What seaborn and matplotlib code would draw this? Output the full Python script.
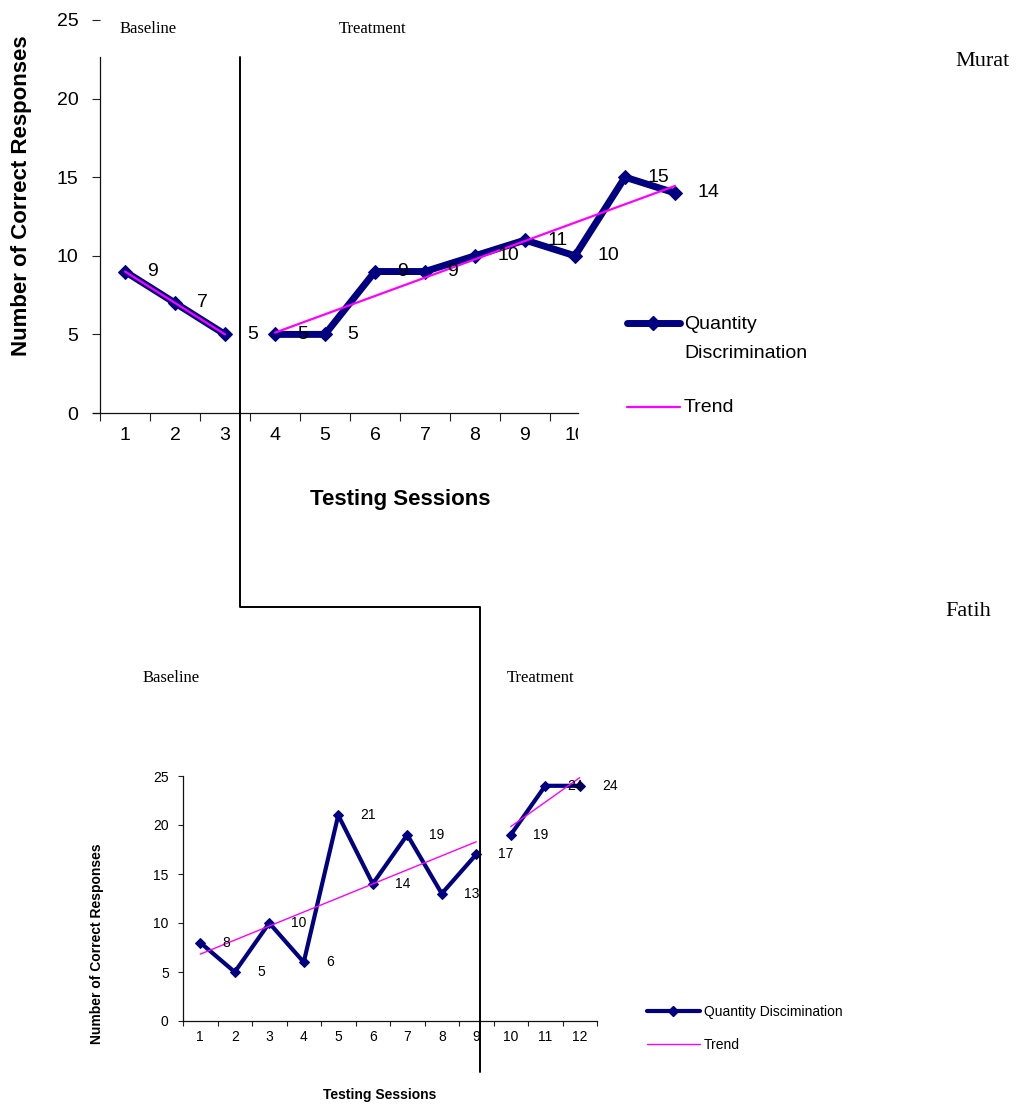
import numpy as np
import pandas as pd
import matplotlib.pyplot as plt
import seaborn as sns
from matplotlib.lines import Line2D
from matplotlib.transforms import Bbox, TransformedBbox

# --- Configuration ---
W, H = 1025, 1104
DPI = 100
NAVY = '#000080'
MAGENTA = '#FF00FF'
SERIF = 'Liberation Serif'

# --- Data ---
murat_sessions = list(range(1, 13))
murat_scores = [9, 7, 5, 5, 5, 9, 9, 10, 11, 10, 15, 14]
murat_phase = ['Baseline'] * 3 + ['Treatment'] * 9

fatih_sessions = list(range(1, 13))
fatih_scores = [8, 5, 10, 6, 21, 14, 19, 13, 17, 19, 24, 24]
fatih_phase = ['Baseline'] * 9 + ['Treatment'] * 3

y_ticks = [0, 5, 10, 15, 20, 25]


def fx(x):
    return x / W


def fy(y):
    return 1 - y / H


def draw_series(ax, df, lw, ms, trend_lw, fs, offset):
    groups = list(df.groupby('phase', sort=False))
    for _, part in groups:
        sns.lineplot(data=part, x='session', y='score', ax=ax, color=NAVY, lw=lw,
                     marker='D', markersize=ms, markeredgecolor=NAVY,
                     clip_on=False, legend=False, errorbar=None)
    # separate least-squares trend for each phase
    for _, part in groups:
        coef = np.polyfit(part['session'], part['score'], 1)
        xs = part['session'].iloc[[0, -1]].to_numpy()
        sns.lineplot(x=xs, y=np.polyval(coef, xs), ax=ax, color=MAGENTA,
                     lw=trend_lw, clip_on=False, legend=False)
    for s, v in zip(df['session'], df['score']):
        ax.annotate(str(v), (s, v), xytext=(offset, 0), textcoords='offset points',
                    ha='left', va='center', fontsize=fs, color='black',
                    annotation_clip=False)


def style_axis(ax, n_labels, last_tick, fs, tick_len, pad):
    ax.set_xlim(0.5, 12.5)
    ax.set_ylim(0, 25)
    ax.set_xticks(np.arange(0.5, last_tick + 0.1, 1))
    ax.set_xticks(np.arange(1, n_labels + 1), minor=True)
    ax.set_xticklabels([])
    ax.set_xticklabels([str(i) for i in range(1, n_labels + 1)], minor=True)
    ax.set_yticks(y_ticks)
    ax.tick_params(axis='x', which='major', length=tick_len, width=0.8, direction='out',
                   color='#222222')
    ax.tick_params(axis='x', which='minor', length=0, labelsize=fs, pad=pad,
                   labelcolor='black')
    ax.tick_params(axis='y', length=tick_len, width=0.8, direction='out',
                   labelsize=fs, pad=pad, color='#222222', labelcolor='black')
    ax.set_xlabel('')
    ax.set_ylabel('')
    for side in ['top', 'right']:
        ax.spines[side].set_visible(False)
    for side in ['left', 'bottom']:
        ax.spines[side].set_color('#111111')
        ax.spines[side].set_linewidth(0.9)


def main():
    sns.set_theme(style='ticks')
    plt.rcParams['font.family'] = ['Liberation Sans', 'DejaVu Sans']
    plt.rcParams['text.color'] = 'black'

    fig = plt.figure(figsize=(W / DPI, H / DPI), dpi=DPI)

    df_m = pd.DataFrame({'session': murat_sessions, 'score': murat_scores, 'phase': murat_phase})
    df_f = pd.DataFrame({'session': fatih_sessions, 'score': fatih_scores, 'phase': fatih_phase})

    # --- Murat ---
    ax1 = fig.add_axes([fx(100), fy(413), fx(600), 393 / H])
    draw_series(ax1, df_m, lw=5, ms=7, trend_lw=1.6, fs=14, offset=16)
    style_axis(ax1, 10, 9.5, fs=14, tick_len=5.5, pad=10)
    ax1.spines['left'].set_bounds(0, 22.65)
    ax1.spines['bottom'].set_bounds(0.36, 10.06)
    lbl = ax1.get_xticklabels(minor=True)[-1]
    lbl.set_clip_box(TransformedBbox(Bbox([[0, 0], [fx(578), 1]]), fig.transFigure))
    lbl.set_clip_on(True)

    fig.text(fx(400), fy(499), 'Testing Sessions', ha='center', va='center',
             fontsize=16, fontweight='bold')
    fig.text(fx(22), fy(196), 'Number of Correct Responses', ha='center', va='center',
             rotation=90, fontsize=16, fontweight='bold')

    # legend (Murat)
    fig.add_artist(Line2D([fx(627), fx(680)], [fy(323), fy(323)], transform=fig.transFigure,
                          color=NAVY, lw=5, solid_capstyle='round'))
    fig.add_artist(Line2D([fx(653)], [fy(323)], transform=fig.transFigure, color=NAVY,
                          marker='D', markersize=7))
    fig.add_artist(Line2D([fx(627), fx(680)], [fy(407), fy(407)], transform=fig.transFigure,
                          color=MAGENTA, lw=1.6))
    fig.text(fx(684), fy(325), 'Quantity', ha='left', va='center', fontsize=14)
    fig.text(fx(684), fy(353), 'Discrimination', ha='left', va='center', fontsize=14)
    fig.text(fx(684), fy(408), 'Trend', ha='left', va='center', fontsize=14)

    # --- Fatih ---
    ax2 = fig.add_axes([fx(183), fy(1021), fx(414), 245 / H])
    draw_series(ax2, df_f, lw=3, ms=5.5, trend_lw=1.0, fs=10, offset=16)
    style_axis(ax2, 12, 12.5, fs=10, tick_len=3.8, pad=6.5)

    fig.text(fx(380), fy(1095), 'Testing Sessions', ha='center', va='center',
             fontsize=10, fontweight='bold')
    fig.text(fx(97), fy(944), 'Number of Correct Responses', ha='center', va='center',
             rotation=90, fontsize=10, fontweight='bold')

    fig.add_artist(Line2D([fx(647), fx(700)], [fy(1011), fy(1011)], transform=fig.transFigure,
                          color=NAVY, lw=3, solid_capstyle='round'))
    fig.add_artist(Line2D([fx(673)], [fy(1011)], transform=fig.transFigure, color=NAVY,
                          marker='D', markersize=5.5))
    fig.add_artist(Line2D([fx(647), fx(700)], [fy(1044), fy(1044)], transform=fig.transFigure,
                          color=MAGENTA, lw=1.0))
    fig.text(fx(704), fy(1012), 'Quantity Discimination', ha='left', va='center', fontsize=10)
    fig.text(fx(704), fy(1045), 'Trend', ha='left', va='center', fontsize=10)

    # --- Phase change line ---
    fig.add_artist(Line2D([fx(240), fx(240), fx(480), fx(480)],
                          [fy(57), fy(607), fy(607), fy(1072)],
                          transform=fig.transFigure, color='black', lw=1.4))

    # --- Phase / participant labels ---
    fig.text(fx(148), fy(29), 'Baseline', ha='center', va='center', fontsize=12, family=SERIF)
    fig.text(fx(373), fy(29), 'Treatment', ha='center', va='center', fontsize=12, family=SERIF)
    fig.text(fx(171), fy(678), 'Baseline', ha='center', va='center', fontsize=12, family=SERIF)
    fig.text(fx(541), fy(678), 'Treatment', ha='center', va='center', fontsize=12, family=SERIF)
    fig.text(fx(983), fy(62), 'Murat', ha='center', va='center', fontsize=16, family=SERIF)
    fig.text(fx(968), fy(612), 'Fatih', ha='center', va='center', fontsize=16, family=SERIF)

    fig.savefig('out.png', dpi=DPI)
    plt.close(fig)


if __name__ == '__main__':
    main()
